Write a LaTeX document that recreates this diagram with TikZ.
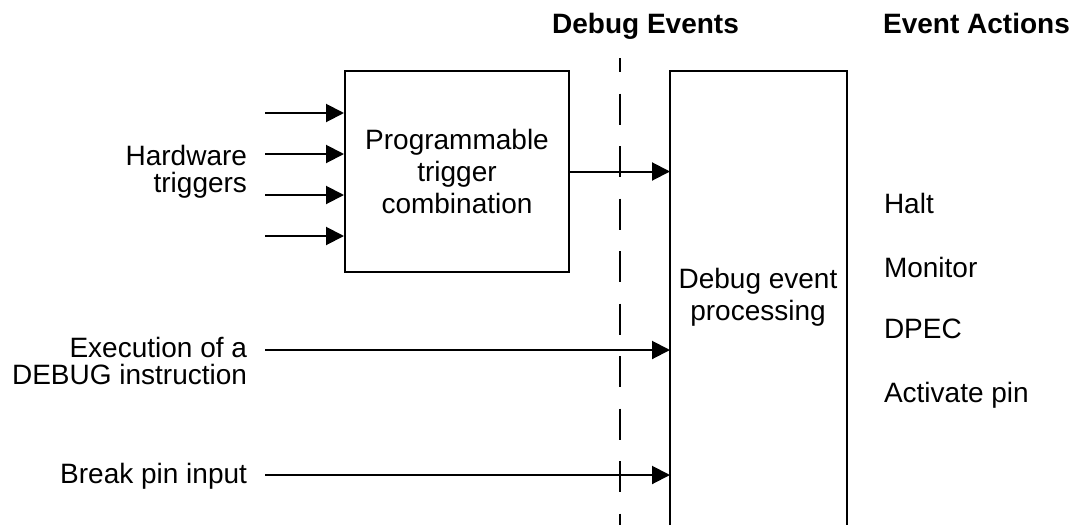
\documentclass[tikz,border=0pt]{standalone}
\usepackage{fontspec}
\setmainfont{Liberation Sans}
\usetikzlibrary{arrows.meta}
\begin{document}
\begin{tikzpicture}[x=1pt, y=-1pt, line width=2pt, line join=miter,
  lbl/.style={inner sep=0pt, font=\fontsize{28}{27}\selectfont},
  boxtext/.style={font=\fontsize{28}{32}\selectfont, align=center},
  head/.style={inner sep=0pt, font=\fontsize{28}{27}\selectfont\bfseries},
  sig/.style={-{Triangle[length=18pt,width=18pt]}},
  evline/.style={dash pattern=on 31pt off 21.5pt, dash phase=17pt}]
\useasboundingbox (0,0) rectangle (1079,525);

% column headings
\node[head, anchor=base] (hdev) at (645.5,33) {Debug Events};
\node[head, anchor=base] (hdact) at (976.5,33) {Event Actions};

% trigger combination block
\node[draw, boxtext, minimum width=224pt, minimum height=201pt, inner sep=0pt]
  (combine) at (457,171.5) {Programmable\\trigger\\combination};

% debug event processing block, open at the bottom
\coordinate (pbl) at (670,525);
\coordinate (pbr) at (847,525);
\draw (pbl) |- (847,71) -- (pbr);
\node[boxtext, inner sep=0pt, anchor=base] (proc) at (758,320) {Debug event\\processing};

% boundary of the debug events
\coordinate (dtop) at (620,58);
\coordinate (dbot) at (620,525);
\draw[evline] (dtop) -- (dbot);

% hardware trigger inputs
\foreach \y/\n in {113/1,154/2,195/3,236/4} {
  \coordinate (hw\n) at (265,\y);
  \draw[sig] (hw\n) -- (hw\n -| combine.west);
}
\node[lbl, align=right, anchor=base east] (hwlbl) at (248,192) {Hardware\\triggers};

% combined trigger into event processing
\draw[sig] (combine.east) -- (combine.east -| pbl);

% DEBUG instruction
\coordinate (ex) at (265,350);
\draw[sig] (ex) -- (ex -| pbl);
\node[lbl, align=right, anchor=base east] (exlbl) at (248,384) {Execution of a\\DEBUG instruction};

% break pin
\coordinate (bp) at (265,475);
\draw[sig] (bp) -- (bp -| pbl);
\node[lbl, anchor=base east] (bplbl) at (248,483) {Break pin input};

% event actions
\node[lbl, anchor=base west] (halt) at (883,213) {Halt};
\node[lbl, anchor=base west] (mon) at (883,277) {Monitor};
\node[lbl, anchor=base west] (dpec) at (883,338) {DPEC};
\node[lbl, anchor=base west] (actpin) at (883,402) {Activate pin};
\end{tikzpicture}
\end{document}
